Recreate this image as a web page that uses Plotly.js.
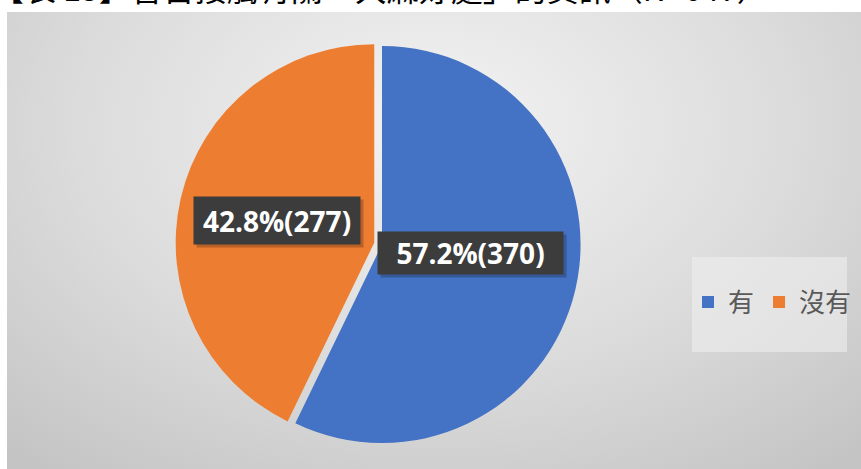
<!DOCTYPE html>
<html>
<head>
<meta charset="utf-8">
<script src="https://cdn.plot.ly/plotly-3.0.1.min.js"></script>
<style>
  html, body { margin: 0; padding: 0; background: #ffffff; }
  #wrap { position: relative; width: 861px; height: 469px; overflow: hidden; }
  #bg { position: absolute; left: 7px; top: 12px; width: 854px; height: 457px;
        background: radial-gradient(ellipse 75% 95% at 50% 25%, #f3f3f3 0%, #dcdcdc 55%, #c4c4c4 100%); }
  #chart { position: absolute; left: 0; top: 0; width: 861px; height: 469px; }
</style>
</head>
<body>
<div id="wrap">
  <div id="bg"></div>
  <div id="chart"></div>
</div>
<script>
const chartTitle = '【表 15】曾否接觸有關「大麻好處」的資訊（N=647）';
const categories = ['有', '沒有'];
const counts = [370, 277];
const sliceColors = ['#4472C4', '#ED7D31'];

const W = 861, H = 469;
const px = x => x / W;
const py = y => 1 - y / H;

const total = counts.reduce((a, b) => a + b, 0);
const labelTexts = counts.map(v => (v / total * 100).toFixed(1) + '%(' + v + ')');

const trace = {
  type: 'pie',
  labels: categories,
  values: counts,
  sort: false,
  direction: 'clockwise',
  rotation: 0,
  pull: [0, 0.04],
  marker: { colors: sliceColors, line: { width: 0 } },
  textinfo: 'none',
  hoverinfo: 'none',
  domain: { x: [px(175.5), px(588.5)], y: [py(451), py(38)] }
};

const labelBoxes = [
  { cx: 470.5, cy: 253, w: 185, h: 42 },
  { cx: 277, cy: 220.5, w: 166, h: 47 }
];

const annotations = [
  {
    text: chartTitle, xref: 'paper', yref: 'paper',
    x: px(380.5), y: py(-13), xanchor: 'center', yanchor: 'middle', showarrow: false,
    font: { family: 'Noto Sans CJK TC', size: 32, color: '#000000' }
  }
];
labelTexts.forEach((t, i) => {
  const b = labelBoxes[i];
  annotations.push({
    text: t, xref: 'paper', yref: 'paper', x: px(b.cx + 3), y: py(b.cy + 3),
    xanchor: 'center', yanchor: 'middle', showarrow: false,
    width: b.w, height: b.h, borderpad: 0, bgcolor: 'rgba(0,0,0,0.22)', font: { size: 1, color: 'rgba(0,0,0,0)' }
  });
  annotations.push({
    text: '<b>' + t + '</b>', xref: 'paper', yref: 'paper', x: px(b.cx), y: py(b.cy),
    xanchor: 'center', yanchor: 'middle', showarrow: false,
    width: b.w, height: b.h, borderpad: 0, bgcolor: '#3c3c3c',
    font: { family: 'Open Sans', size: 28, color: '#ffffff' }
  });
});

const layout = {
  width: W, height: H,
  margin: { l: 0, r: 0, t: 0, b: 0 },
  paper_bgcolor: 'rgba(0,0,0,0)',
  plot_bgcolor: 'rgba(0,0,0,0)',
  showlegend: true,
  legend: {
    orientation: 'h', x: px(688), y: py(302), xanchor: 'left', yanchor: 'middle',
    bgcolor: 'rgba(0,0,0,0)',
    font: { family: 'Noto Sans CJK TC', size: 26, color: '#595959' },
    itemclick: false, itemdoubleclick: false
  },
  shapes: [
    { type: 'rect', xref: 'paper', yref: 'paper', x0: px(692), x1: px(847), y0: py(352), y1: py(257),
      fillcolor: 'rgba(238,238,238,0.6)', line: { width: 0 }, layer: 'below' }
  ],
  annotations: annotations
};

Plotly.newPlot('chart', [trace], layout, { displayModeBar: false, staticPlot: true });
</script>
</body>
</html>
